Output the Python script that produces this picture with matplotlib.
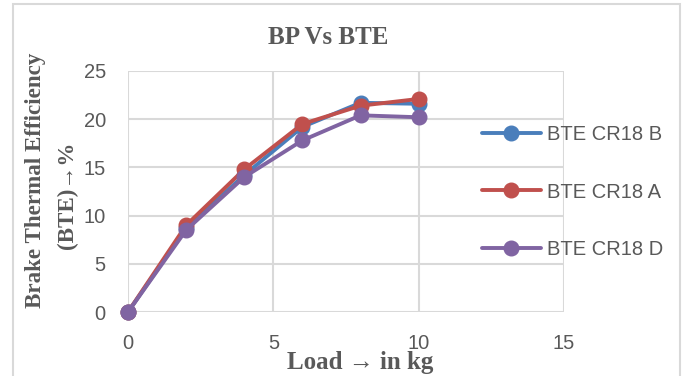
import matplotlib.pyplot as plt

load = [0, 2, 4, 6, 8, 10]
bte_b = [0, 8.7, 14.2, 19.2, 21.7, 21.6]
bte_a = [0, 9.0, 14.8, 19.5, 21.4, 22.1]
bte_d = [0, 8.5, 14.0, 17.8, 20.4, 20.2]

names = ["BTE CR18 B", "BTE CR18 A", "BTE CR18 D"]
colors = ["#4a7ebb", "#c0504d", "#8064a2"]

fig = plt.figure(figsize=(6.83, 3.76), dpi=100)
ax = fig.add_axes([0.1874, 0.1702, 0.6384, 0.641])

for y, name, c in zip([bte_b, bte_a, bte_d], names, colors):
    ax.plot(load, y, color=c, lw=2.8, marker="o", ms=10.5, label=name,
            solid_capstyle="round", zorder=3, clip_on=False)

ax.set_xlim(0, 15)
ax.set_ylim(0, 25)
ax.set_xticks([0, 5, 10, 15])
ax.set_yticks([0, 5, 10, 15, 20, 25])
ax.grid(True, color="#d9d9d9", lw=1.5)
for s in ax.spines.values():
    s.set_visible(False)
ax.tick_params(length=0, labelsize=14.5, colors="#595959", pad=16)
for lab in ax.get_xticklabels() + ax.get_yticklabels():
    lab.set_fontfamily("Liberation Sans")
ax.set_axisbelow(True)

leg = ax.legend(loc="upper left", bbox_to_anchor=(0.771, 0.85), frameon=False,
                prop={"family": "Liberation Sans", "size": 14.5},
                labelspacing=1.9, handlelength=2.9, handletextpad=0.3,
                labelcolor="#595959")

serif = {"family": "Liberation Serif", "weight": "bold", "color": "#595959"}
fig.text(0.48, 0.899, "BP Vs BTE", ha="center", va="center", fontsize=18, **serif)
fig.text(0.528, 0.035, "Load \u2192 in kg", ha="center", va="center", fontsize=18, **serif)
fig.text(36 / 683, 1 - 180 / 376, "Brake Thermal Efficiency", ha="center", va="center",
         rotation=90, fontsize=16.6, **serif)
fig.text(67 / 683, 1 - 195 / 376, "(BTE)\u2192%", ha="center", va="center",
         rotation=90, fontsize=16.6, **serif)

# chart border
fig.add_artist(plt.Rectangle((13 / 683, -0.05), (680 - 13) / 683, 1 - 4 / 376 + 0.05,
                             transform=fig.transFigure, fill=False,
                             edgecolor="#d9d9d9", lw=1.5))

fig.savefig("out.png", dpi=100)
